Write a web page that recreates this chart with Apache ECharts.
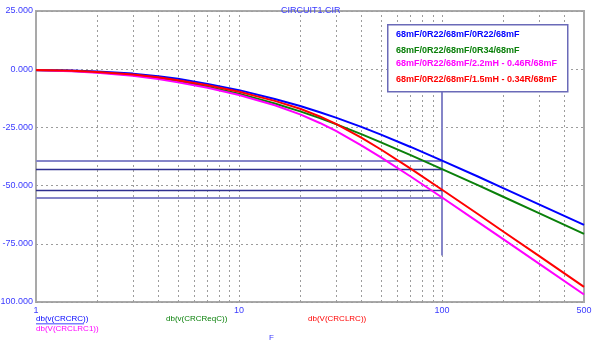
<!DOCTYPE html>
<html>
<head>
<meta charset="utf-8">
<script src="https://cdn.jsdelivr.net/npm/echarts@6/dist/echarts.min.js"></script>
<style>
  html, body { margin: 0; padding: 0; background: #ffffff; }
  #chart { width: 600px; height: 344px; }
</style>
</head>
<body>
<div id="chart"></div>
<script>
// Frequency points (Hz) shared by all four traces
var freqs = [1, 1.5, 2, 3, 4, 5, 7, 10, 15, 20, 25, 30, 40, 50, 70, 100, 150, 200, 300, 500];

// Gain in dB for each filter variant
var dbCRCRC   = [-0.3, -0.6, -1.0, -1.9, -3.0, -4.1, -6.3, -9.0, -12.8, -15.8, -18.5, -20.8, -24.8, -28.1, -33.4, -39.3, -46.1, -51.1, -58.1, -66.9];
var dbCRCReqC = [-0.4, -0.8, -1.3, -2.5, -3.8, -5.1, -7.5, -10.5, -14.7, -18.1, -21.0, -23.6, -27.9, -31.4, -36.9, -42.9, -49.8, -54.8, -61.8, -70.7];
var dbCRCLRC  = [-0.3, -0.7, -1.2, -2.3, -3.5, -4.7, -6.9, -9.7, -13.6, -17.0, -20.3, -23.5, -29.4, -34.5, -42.7, -51.8, -62.2, -69.7, -80.2, -93.5];
var dbCRCLRC1 = [-0.4, -0.9, -1.5, -2.8, -4.2, -5.6, -8.0, -11.1, -15.5, -19.4, -23.1, -26.5, -32.7, -37.9, -46.1, -55.1, -65.6, -73.0, -83.5, -96.8];

// Legend captions
var captions = [
  '68mF/0R22/68mF/0R22/68mF',
  '68mF/0R22/68mF/0R34/68mF',
  '68mF/0R22/68mF/2.2mH - 0.46R/68mF',
  '68mF/0R22/68mF/1.5mH - 0.34R/68mF'
];

// Trace names printed under the axis
var traceNames = ['db(v(CRCRC))', 'db(V(CRCLRC1))', 'db(v(CRCReqC))', 'db(V(CRCLRC))'];

// Axis ticks
var xLabels = [1, 10, 100, 500];
var xGrid = [2, 3, 4, 5, 6, 7, 8, 9, 10, 20, 30, 40, 50, 60, 70, 80, 90, 100, 200, 300, 400];
var yMin = -100, yMax = 25, yStep = 25;

// Cursor at 100 Hz and the level of each trace there
var cursorFreq = 100;
var cursorLevels = [-39.3, -42.9, -51.8, -55.1];
var cursorSpan = [-80, 0];

var blue = '#0000ff', green = '#0a800a', magenta = '#ff00ff', red = '#ff0000';
var labelBlue = '#3b3bff';
var font = "'Liberation Sans', Arial, sans-serif";

function pairs(ys) { return freqs.map(function (f, i) { return [f, ys[i]]; }); }

var gridLine = { color: '#9c9c9c', width: 1, type: [2, 3] };

var chart = echarts.init(document.getElementById('chart'), null, { renderer: 'canvas' });

function trace(name, ys, color) {
  return {
    name: name, type: 'line', data: pairs(ys), showSymbol: false, smooth: false,
    lineStyle: { color: color, width: 2 }, z: 5
  };
}

chart.setOption({
  animation: false,
  backgroundColor: '#ffffff',
  title: {
    text: 'CIRCUIT1.CIR',
    left: 276, top: 1,
    textStyle: { color: labelBlue, fontSize: 9, fontWeight: 'normal', fontFamily: font }
  },
  grid: {
    left: 36, right: 16, top: 11, bottom: 42,
    outerBoundsMode: 'none', containLabel: false,
    show: true, borderColor: '#a9a9a9', borderWidth: 2, backgroundColor: 'transparent'
  },
  xAxis: {
    type: 'log', logBase: 10, min: 1, max: 500,
    axisLine: { show: false },
    axisTick: { show: false },
    splitLine: { show: false },
    minorSplitLine: { show: false },
    axisLabel: {
      customValues: xLabels,
      showMinLabel: true, showMaxLabel: true,
      color: labelBlue, fontSize: 9, fontFamily: font, margin: 4,
      formatter: function (v) { return String(Math.round(v)); }
    }
  },
  yAxis: {
    type: 'value', min: yMin, max: yMax, interval: yStep,
    axisLine: { show: false },
    axisTick: { show: false },
    splitLine: { show: true, lineStyle: gridLine },
    axisLabel: {
      color: labelBlue, fontSize: 9, fontFamily: font, margin: 3,
      formatter: function (v) { return v.toFixed(3); }
    }
  },
  series: [
    {
      name: 'grid', type: 'line', data: [], silent: true, z: 1,
      markLine: {
        silent: true, symbol: 'none', label: { show: false },
        lineStyle: gridLine,
        data: xGrid.map(function (f) { return { xAxis: f }; })
      }
    },
    {
      name: 'cursor', type: 'line', data: [], silent: true, z: 2,
      markLine: {
        silent: true, symbol: 'none', label: { show: false },
        data: [
          [{ coord: [cursorFreq, cursorSpan[0]], lineStyle: { color: '#8585c8', width: 2, type: 'solid' } },
           { coord: [cursorFreq, cursorSpan[1]] }]
        ].concat(cursorLevels.map(function (lv, i) {
          var light = (i === 0 || i === 3);
          return [
            { coord: [1, lv], lineStyle: { color: light ? '#8585c8' : '#30308f', width: light ? 2 : 1.3, type: 'solid' } },
            { coord: [cursorFreq, lv] }
          ];
        }))
      }
    },
    trace(captions[0], dbCRCRC, blue),
    trace(captions[1], dbCRCReqC, green),
    trace(captions[2], dbCRCLRC1, magenta),
    trace(captions[3], dbCRCLRC, red)
  ],
  graphic: [
    // Legend box
    {
      type: 'rect', left: 387, top: 24, z: 100,
      shape: { width: 180, height: 67 },
      style: { fill: '#ffffff', stroke: '#6a6ab8', lineWidth: 1.5 }
    },
    { type: 'text', left: 396, top: 30, z: 101, style: { text: captions[0], fill: blue, font: 'bold 9px ' + font } },
    { type: 'text', left: 396, top: 46, z: 101, style: { text: captions[1], fill: green, font: 'bold 9px ' + font } },
    { type: 'text', left: 396, top: 59, z: 101, style: { text: captions[2], fill: magenta, font: 'bold 9px ' + font } },
    { type: 'text', left: 396, top: 75, z: 101, style: { text: captions[3], fill: red, font: 'bold 9px ' + font } },
    // Trace names under the axis
    { type: 'text', left: 36, top: 315, style: { text: traceNames[0], fill: blue, font: '8px ' + font } },
    { type: 'rect', left: 36, top: 323.5, shape: { width: 48, height: 0.8 }, style: { fill: blue } },
    { type: 'text', left: 36, top: 325, style: { text: traceNames[1], fill: magenta, font: '8px ' + font } },
    { type: 'text', left: 166, top: 315, style: { text: traceNames[2], fill: green, font: '8px ' + font } },
    { type: 'text', left: 308, top: 315, style: { text: traceNames[3], fill: red, font: '8px ' + font } },
    { type: 'text', left: 269, top: 334, style: { text: 'F', fill: labelBlue, font: '8px ' + font } }
  ]
});
</script>
</body>
</html>
